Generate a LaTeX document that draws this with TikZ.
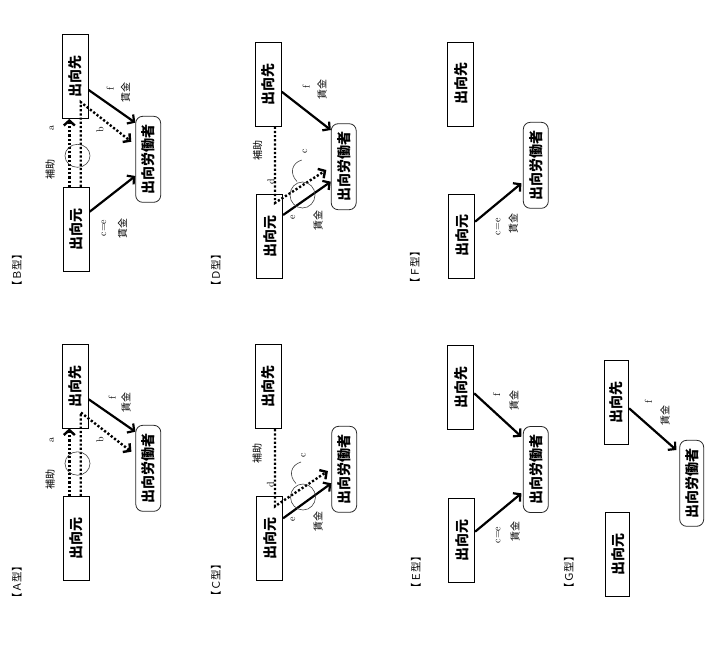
\documentclass[tikz,border=0pt]{standalone}
\usepackage{fontspec}
\usepackage{graphicx}
\newfontfamily\cjk{Noto Sans CJK JP}
\usetikzlibrary{arrows.meta,calc}
\tikzset{
  ent/.style={draw, line width=0.8pt, minimum width=26pt, minimum height=84pt, inner sep=0pt,
    font=\cjk\bfseries\fontsize{14}{15}\selectfont},
  wk/.style={ent, rounded corners=7pt, minimum width=25pt, minimum height=86pt, draw=black!85},
  lbl/.style={font=\cjk\fontsize{10}{11}\selectfont, inner sep=0pt, rotate=90},
  ltr/.style={font=\fontsize{10}{11}\selectfont, inner sep=0pt, rotate=90},
  ttl/.style={font=\cjk\fontsize{10.5}{11}\selectfont, inner sep=0pt, rotate=90},
  pay/.style={line width=2.2pt, -{Straight Barb[length=5pt,width=11pt]}},
  sub/.style={line width=2.4pt, dash pattern=on 2.2pt off 2pt, line join=miter, -{Straight Barb[length=5pt,width=11pt]}},
  ring/.style={draw=black!75, line width=0.6pt},
}
\newcommand{\rt}[1]{\rotatebox{90}{#1}}
\begin{document}
\begin{tikzpicture}[x=1pt,y=-1pt]
\useasboundingbox (0,0) rectangle (707,651);
% ---------- A ----------
\node[ent] (As) at (75.3,386) {\rt{出向先}};
\node[ent] (Am) at (76.3,538.5) {\rt{出向元}};
\node[wk] (Aw) at (148.3,468.3) {\rt{出向労働者}};
\draw[pay] ($(As.east)+(0,13.3)$) -- ($(Aw.west)+(0,-36.6)$);
\draw[sub] ($(Am.north)+(4.4,0)$) -- ($(As.south)+(5.4,-16)$) -- ($(Aw.west)+(-4,-16.6)$);
\draw[sub] ($(Am.north)+(-7,0)$) -- ($(As.south)+(-6,0)$);
\draw[ring] (77.5,463.5) ellipse [x radius=12.5, y radius=11.7];
\node[lbl] (A1) at (50,479) {補助};
\node[ltr] (A2) at (51.7,440) {a};
\node[ltr] (A3) at (100,440) {b};
\node[ltr] (A4) at (112,398) {f};
\node[lbl] (A5) at (126,402) {賃金};
\node[ttl] (AT) at (17,582) {【Ａ型】};
% ---------- B ----------
\node[ent] (Bs) at (75.3,76.5) {\rt{出向先}};
\node[ent] (Bm) at (76.3,229.3) {\rt{出向元}};
\node[wk] (Bw) at (148.2,159.3) {\rt{出向労働者}};
\draw[pay] ($(Bs.east)+(0,13.5)$) -- ($(Bw.west)+(0,-36.6)$);
\draw[pay] ($(Bm.east)+(0,-17.6)$) -- ($(Bw.west)+(0,16.7)$);
\draw[sub] ($(Bm.north)+(4.4,0)$) -- ($(Bs.south)+(5.4,-16.8)$) -- ($(Bw.west)+(-4,-17.6)$);
\draw[sub] ($(Bm.north)+(-7,0)$) -- ($(Bs.south)+(-6,0)$);
\draw[ring] (77.5,155.8) ellipse [x radius=12.5, y radius=11.5];
\node[lbl] (B1) at (50,169) {補助};
\node[ltr] (B2) at (51.7,128) {a};
\node[ltr] (B3) at (100,130) {b};
\node[ltr] (B4) at (110,89) {f};
\node[lbl] (B5) at (125.5,92.5) {賃金};
\node[ltr] (B6) at (104,228) {c=e};
\node[lbl] (B7) at (122.5,228) {賃金};
\node[ttl] (BT) at (17,270) {【Ｂ型】};
% ---------- C ----------
\node[ent] (Cs) at (268.3,386.7) {\rt{出向先}};
\node[ent] (Cm) at (269.7,538.8) {\rt{出向元}};
\node[wk] (Cw) at (344.2,469.3) {\rt{出向労働者}};
\draw[sub] ($(Cs.south)+(6.7,0)$) -- ($(Cm.north)+(5.3,9.9)$) -- ($(Cw.west)+(-3.4,1.7)$);
\draw[pay] ($(Cm.east)+(0,-20.5)$) -- ($(Cw.west)+(0,14)$);
\draw[ring] (303,497) ellipse [x radius=12.5, y radius=13];
\draw[ring] (296,483.5) .. controls (288,475) and (291,465) .. (301,462);
\node[lbl] (C1) at (257,453) {補助};
\node[ltr] (C2) at (270.5,484.5) {d};
\node[ltr] (C3) at (303.5,455) {c};
\node[ltr] (C4) at (293,519) {e};
\node[lbl] (C5) at (318,521) {賃金};
\node[ttl] (CT) at (216,580) {【Ｃ型】};
% ---------- D ----------
\node[ent] (Ds) at (268.3,84.2) {\rt{出向先}};
\node[ent] (Dm) at (269.7,236.7) {\rt{出向元}};
\node[wk] (Dw) at (343.7,166.7) {\rt{出向労働者}};
\draw[sub] ($(Ds.south)+(6.7,0)$) -- ($(Dm.north)+(5.3,8.6)$) -- ($(Dw.west)+(-4.5,3.3)$);
\draw[pay] ($(Dm.east)+(0,-21.7)$) -- ($(Dw.west)+(0,15)$);
\draw[pay] ($(Ds.east)+(0,7.5)$) -- ($(Dw.west)+(0,-36.7)$);
\draw[ring] (302.5,195) ellipse [x radius=12.5, y radius=13];
\draw[ring] (297,181.5) .. controls (289,173) and (292,163) .. (301.7,160);
\node[lbl] (D1) at (257.5,150) {補助};
\node[ltr] (D2) at (271,181.7) {d};
\node[ltr] (D3) at (305,151.7) {c};
\node[ltr] (D4) at (293,217) {e};
\node[lbl] (D5) at (318,220) {賃金};
\node[ltr] (D6) at (306,87) {f};
\node[lbl] (D7) at (322,89) {賃金};
\node[ttl] (DT) at (216,270) {【Ｄ型】};
% ---------- E ----------
\node[ent] (Es) at (460.8,387.7) {\rt{出向先}};
\node[ent] (Em) at (461.7,540) {\rt{出向元}};
\node[wk] (Ew) at (535.8,469.5) {\rt{出向労働者}};
\draw[pay] ($(Es.east)+(0,5.6)$) -- ($(Ew.west)+(-1.5,-32.8)$);
\draw[pay] ($(Em.east)+(0,-8.3)$) -- ($(Ew.west)+(-1.5,23.8)$);
\node[ltr] (E1) at (496.7,395) {f};
\node[lbl] (E2) at (514,400) {賃金};
\node[ltr] (E3) at (498.3,535) {c=e};
\node[lbl] (E4) at (515,531.7) {賃金};
\node[ttl] (ET) at (416,572) {【Ｅ型】};
% ---------- F ----------
\node[ent] (Fs) at (460.8,83.9) {\rt{出向先}};
\node[ent] (Fm) at (461.7,235.9) {\rt{出向元}};
\node[wk] (Fw) at (535.8,165.3) {\rt{出向労働者}};
\draw[pay] ($(Fm.east)+(0,-14.2)$) -- ($(Fw.west)+(-1.5,18)$);
\node[ltr] (F1) at (498.3,226.7) {c=e};
\node[lbl] (F2) at (513.3,223.3) {賃金};
\node[ttl] (FT) at (415,267) {【Ｆ型】};
% ---------- G ----------
\node[ent, minimum width=24pt] (Gs) at (616.7,402) {\rt{出向先}};
\node[ent, minimum width=24pt] (Gm) at (617.7,554.3) {\rt{出向元}};
\node[wk, minimum width=24pt] (Gw) at (691.7,483.3) {\rt{出向労働者}};
\draw[pay] ($(Gs.east)+(0,6.3)$) -- ($(Gw.west)+(-3,-33.3)$);
\node[ltr] (G1) at (648.3,401.7) {f};
\node[lbl] (G2) at (665,415) {賃金};
\node[ttl] (GT) at (569,572) {【Ｇ型】};
\end{tikzpicture}
\end{document}
